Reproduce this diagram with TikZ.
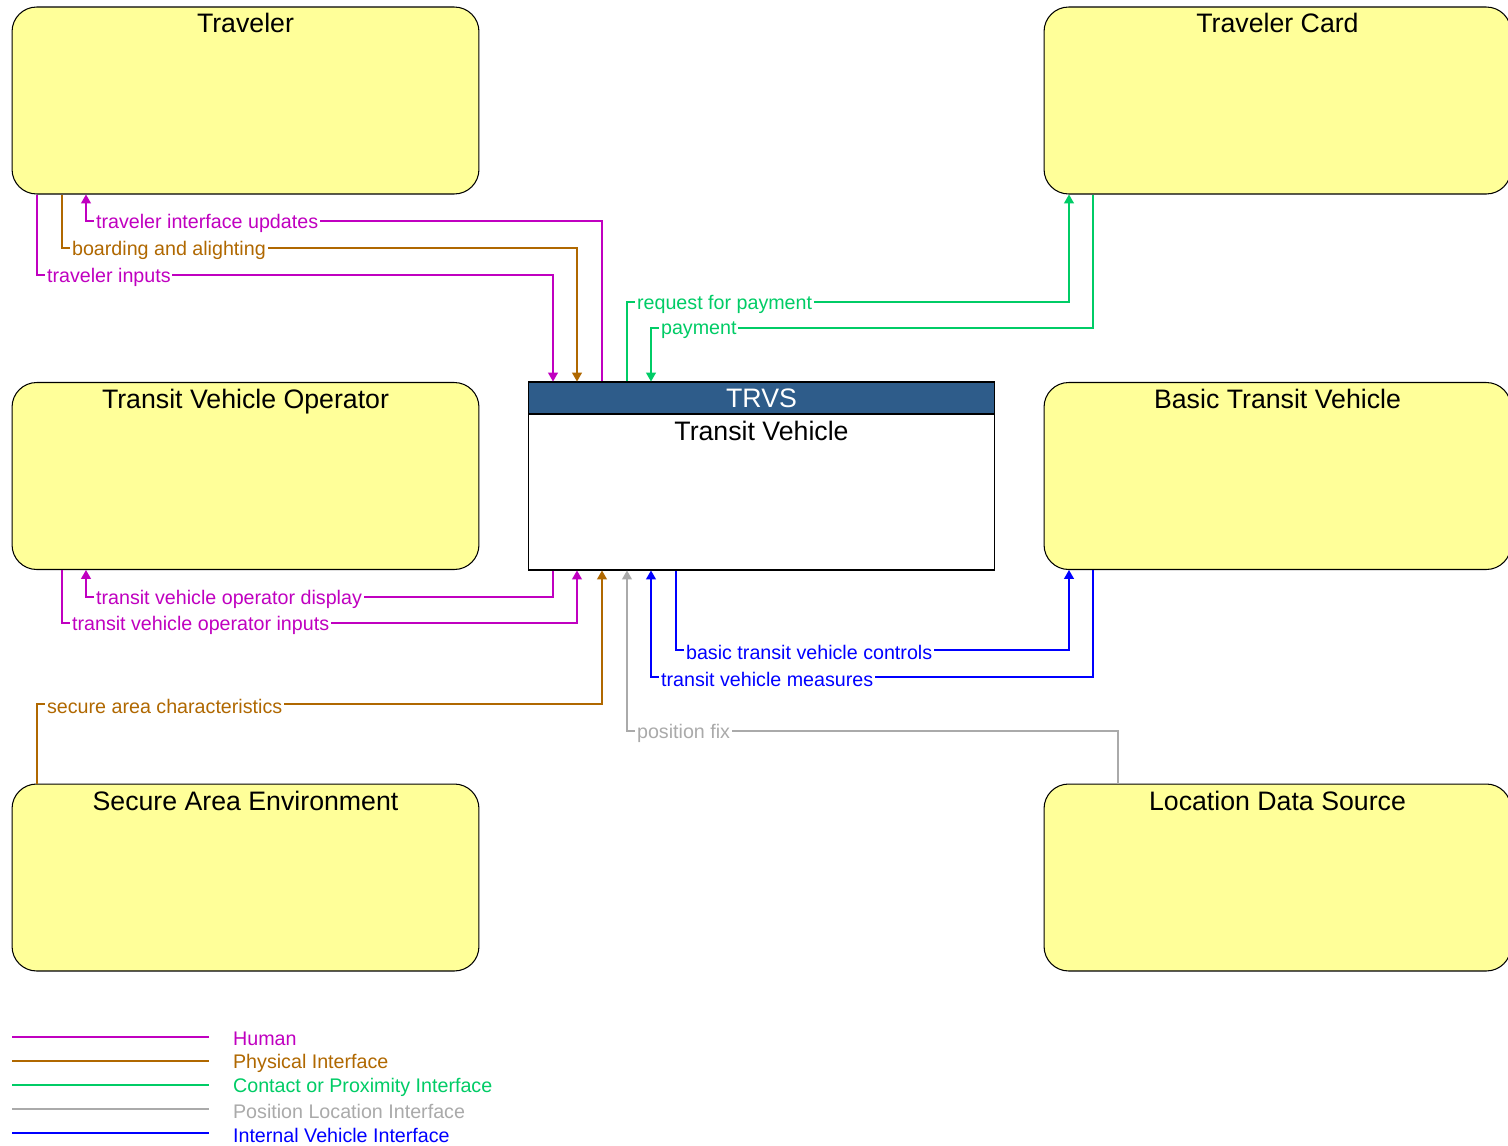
\documentclass[tikz,border=0pt]{standalone}
\usepackage{fontspec}
\setmainfont{Liberation Sans}
\usetikzlibrary{arrows.meta}
\usetikzlibrary{positioning}

\definecolor{entyellow}{RGB}{255,255,153}
\definecolor{trvshead}{RGB}{46,92,138}
\definecolor{flowHuman}{RGB}{192,0,192}
\definecolor{flowPhys}{RGB}{176,104,0}
\definecolor{flowContact}{RGB}{0,204,102}
\definecolor{flowPos}{RGB}{170,170,170}
\definecolor{flowInt}{RGB}{0,0,255}

\begin{document}
\begin{tikzpicture}[x=0.02cm,y=-0.02cm,
  ent/.style={draw=black,fill=entyellow,rounded corners=14pt,minimum width=9.34cm,minimum height=3.74cm,line width=0.6pt},
  ttl/.style={font=\fontsize{15.2}{18}\selectfont,anchor=base},
  flow/.style={line width=0.6pt},
  tip/.style={-{Triangle[width=5.6pt,length=5pt]}},
  lbl/.style={font=\fontsize{11.2}{13}\selectfont,fill=white,inner sep=1pt,anchor=west,yshift=-1.3pt}]
\useasboundingbox (0,0) rectangle (1508,1146);

% elements
\node[ent] (travr) at (245.5,100.5) {};
\node[ttl] (travrT) at (245.5,32) {Traveler};
\node[ent] (tcard) at (1277.5,100.5) {};
\node[ttl] (tcardT) at (1277.5,32) {Traveler Card};
\node[ent] (tvo) at (245.5,476) {};
\node[ttl] (tvoT) at (245.5,408) {Transit Vehicle Operator};
\node[ent] (btv) at (1277.5,476) {};
\node[ttl] (btvT) at (1277.5,408) {Basic Transit Vehicle};
\node[ent] (sae) at (245.5,877.5) {};
\node[ttl] (saeT) at (245.5,810) {Secure Area Environment};
\node[ent] (lds) at (1277.5,877.5) {};
\node[ttl] (ldsT) at (1277.5,810) {Location Data Source};

\node[draw=black,fill=white,minimum width=9.34cm,minimum height=3.76cm,line width=0.6pt] (trvs) at (761.5,476) {};
\node[draw=black,fill=trvshead,text=white,font=\fontsize{15.2}{18}\selectfont,minimum width=9.34cm,minimum height=0.64cm,inner sep=0pt,anchor=north,line width=0.6pt] (trvsH) at (trvs.north) {TRVS};
\node[font=\fontsize{15.2}{18}\selectfont,below=0pt of trvsH] (trvsN) {Transit Vehicle};

% traveler flows
\draw[flow,flowHuman,tip] (602,0 |- trvs.north) -- (602,221) -| (86,0 |- travr.south);
\node[lbl,text=flowHuman] (fTIU) at (94,221) {traveler interface updates};
\draw[flow,flowPhys,tip] (62,0 |- travr.south) |- (577,248) -- (577,0 |- trvs.north);
\node[lbl,text=flowPhys] (fBA) at (70,248) {boarding and alighting};
\draw[flow,flowHuman,tip] (37,0 |- travr.south) |- (553,275) -- (553,0 |- trvs.north);
\node[lbl,text=flowHuman] (fTI) at (45,275) {traveler inputs};

% traveler card flows
\draw[flow,flowContact,tip] (627,0 |- trvs.north) |- (1069,302) -- (1069,0 |- tcard.south);
\node[lbl,text=flowContact] (fRFP) at (635,302) {request for payment};
\draw[flow,flowContact,tip] (1093,0 |- tcard.south) |- (651,328) -- (651,0 |- trvs.north);
\node[lbl,text=flowContact] (fP) at (659,328) {payment};

% operator flows
\draw[flow,flowHuman,tip] (553,0 |- trvs.south) |- (86,597) -- (86,0 |- tvo.south);
\node[lbl,text=flowHuman] (fTVOD) at (94,597) {transit vehicle operator display};
\draw[flow,flowHuman,tip] (62,0 |- tvo.south) |- (577,623) -- (577,0 |- trvs.south);
\node[lbl,text=flowHuman] (fTVOI) at (70,623) {transit vehicle operator inputs};

% vehicle flows
\draw[flow,flowInt,tip] (676,0 |- trvs.south) |- (1069,650) -- (1069,0 |- btv.south);
\node[lbl,text=flowInt] (fBTVC) at (684,650) {basic transit vehicle controls};
\draw[flow,flowInt,tip] (1093,0 |- btv.south) |- (651,677) -- (651,0 |- trvs.south);
\node[lbl,text=flowInt] (fTVM) at (659,677) {transit vehicle measures};

% secure area and location
\draw[flow,flowPhys,tip] (37,0 |- sae.north) |- (602,704) -- (602,0 |- trvs.south);
\node[lbl,text=flowPhys] (fSAC) at (45,704) {secure area characteristics};
\draw[flow,flowPos,tip] (1118,0 |- lds.north) |- (627,731) -- (627,0 |- trvs.south);
\node[lbl,text=flowPos] (fPF) at (635,731) {position fix};

% legend
\draw[flow,flowHuman] (12,1037) -- (209,1037);
\node[lbl,text=flowHuman] (lgH) at (231,1037) {Human};
\draw[flow,flowPhys] (12,1061) -- (209,1061);
\node[lbl,text=flowPhys] (lgP) at (231,1061) {Physical Interface};
\draw[flow,flowContact] (12,1085) -- (209,1085);
\node[lbl,text=flowContact] (lgC) at (231,1085) {Contact or Proximity Interface};
\draw[flow,flowPos] (12,1109) -- (209,1109);
\node[lbl,text=flowPos] (lgL) at (231,1109) {Position Location Interface};
\draw[flow,flowInt] (12,1133) -- (209,1133);
\node[lbl,text=flowInt] (lgI) at (231,1133) {Internal Vehicle Interface};

\end{tikzpicture}
\end{document}
